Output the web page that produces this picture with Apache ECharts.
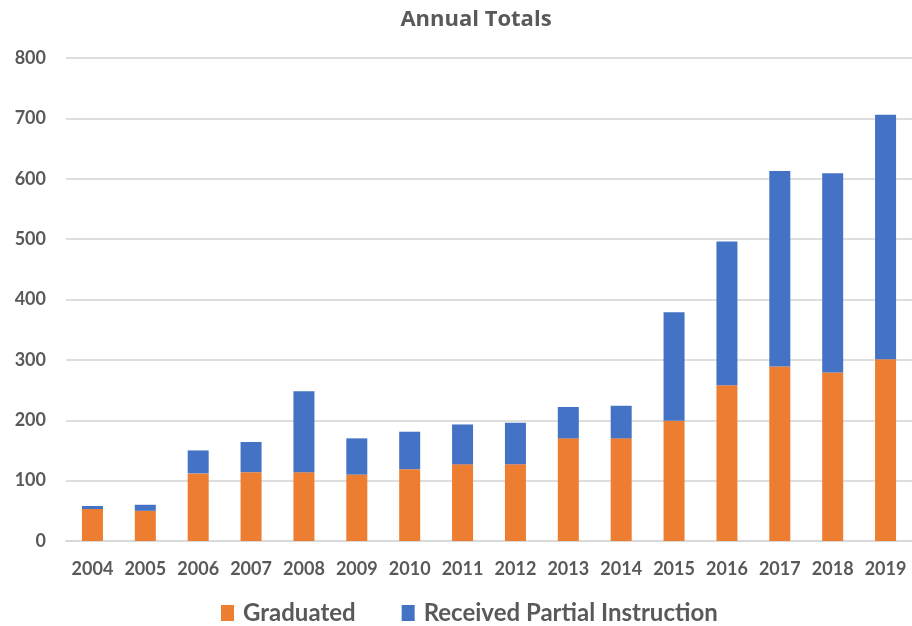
<!DOCTYPE html>
<html>
<head>
<meta charset="utf-8">
<script src="https://cdn.jsdelivr.net/npm/echarts@6/dist/echarts.min.js"></script>
<style>
  html, body { margin: 0; padding: 0; background: #ffffff; }
  #chart { width: 912px; height: 626px; }
</style>
</head>
<body>
<div id="chart"></div>
<script>
// Years on the category axis
const years = ['2004', '2005', '2006', '2007', '2008', '2009', '2010', '2011',
               '2012', '2013', '2014', '2015', '2016', '2017', '2018', '2019'];

// Students who graduated each year
const graduated = [53, 50, 112, 114, 114, 110, 119, 127,
                   127, 170, 170, 199, 258, 289, 279, 301];

// Students who received partial instruction (stacked above graduates)
const partial = [5, 10, 38, 50, 134, 60, 62, 66,
                 69, 52, 54, 180, 238, 324, 330, 405];

const textGray = '#595959';
const fontFamily = 'Lato, "Open Sans", sans-serif';

const chart = echarts.init(document.getElementById('chart'), null, { renderer: 'canvas' });

chart.setOption({
  animation: false,
  backgroundColor: '#ffffff',
  title: {
    text: 'Annual Totals',
    left: 471,
    top: 4,
    textAlign: 'center',
    textStyle: { color: textGray, fontFamily: '"Open Sans", Lato, sans-serif', fontWeight: 'bold', fontSize: 22 }
  },
  legend: {
    top: 596,
    left: 216,
    itemWidth: 13,
    itemHeight: 16,
    itemGap: 46,
    icon: 'rect',
    textStyle: { color: textGray, fontFamily, fontWeight: 'bold', fontSize: 24, padding: [0, 0, 0, 4] },
    data: ['Graduated', 'Received Partial Instruction']
  },
  grid: {
    left: 66,
    top: 58,
    width: 852,
    height: 483,
    containLabel: false
  },
  xAxis: {
    type: 'category',
    data: years,
    axisLine: { lineStyle: { color: '#d9d9d9', width: 2 } },
    axisTick: { show: false },
    axisLabel: { interval: 0, color: textGray, fontFamily, fontWeight: 'bold', fontSize: 18, margin: 19 }
  },
  yAxis: {
    type: 'value',
    min: 0,
    max: 800,
    interval: 100,
    axisLine: { show: false },
    axisTick: { show: false },
    splitLine: { lineStyle: { color: '#dedede', width: 2 } },
    axisLabel: { color: textGray, fontFamily, fontWeight: 'bold', fontSize: 18, margin: 20 }
  },
  series: [
    {
      name: 'Graduated',
      type: 'bar',
      stack: 'total',
      barWidth: 21,
      data: graduated,
      itemStyle: { color: '#ED7D31' }
    },
    {
      name: 'Received Partial Instruction',
      type: 'bar',
      stack: 'total',
      barWidth: 21,
      data: partial,
      itemStyle: { color: '#4472C4' }
    }
  ]
});
</script>
</body>
</html>
